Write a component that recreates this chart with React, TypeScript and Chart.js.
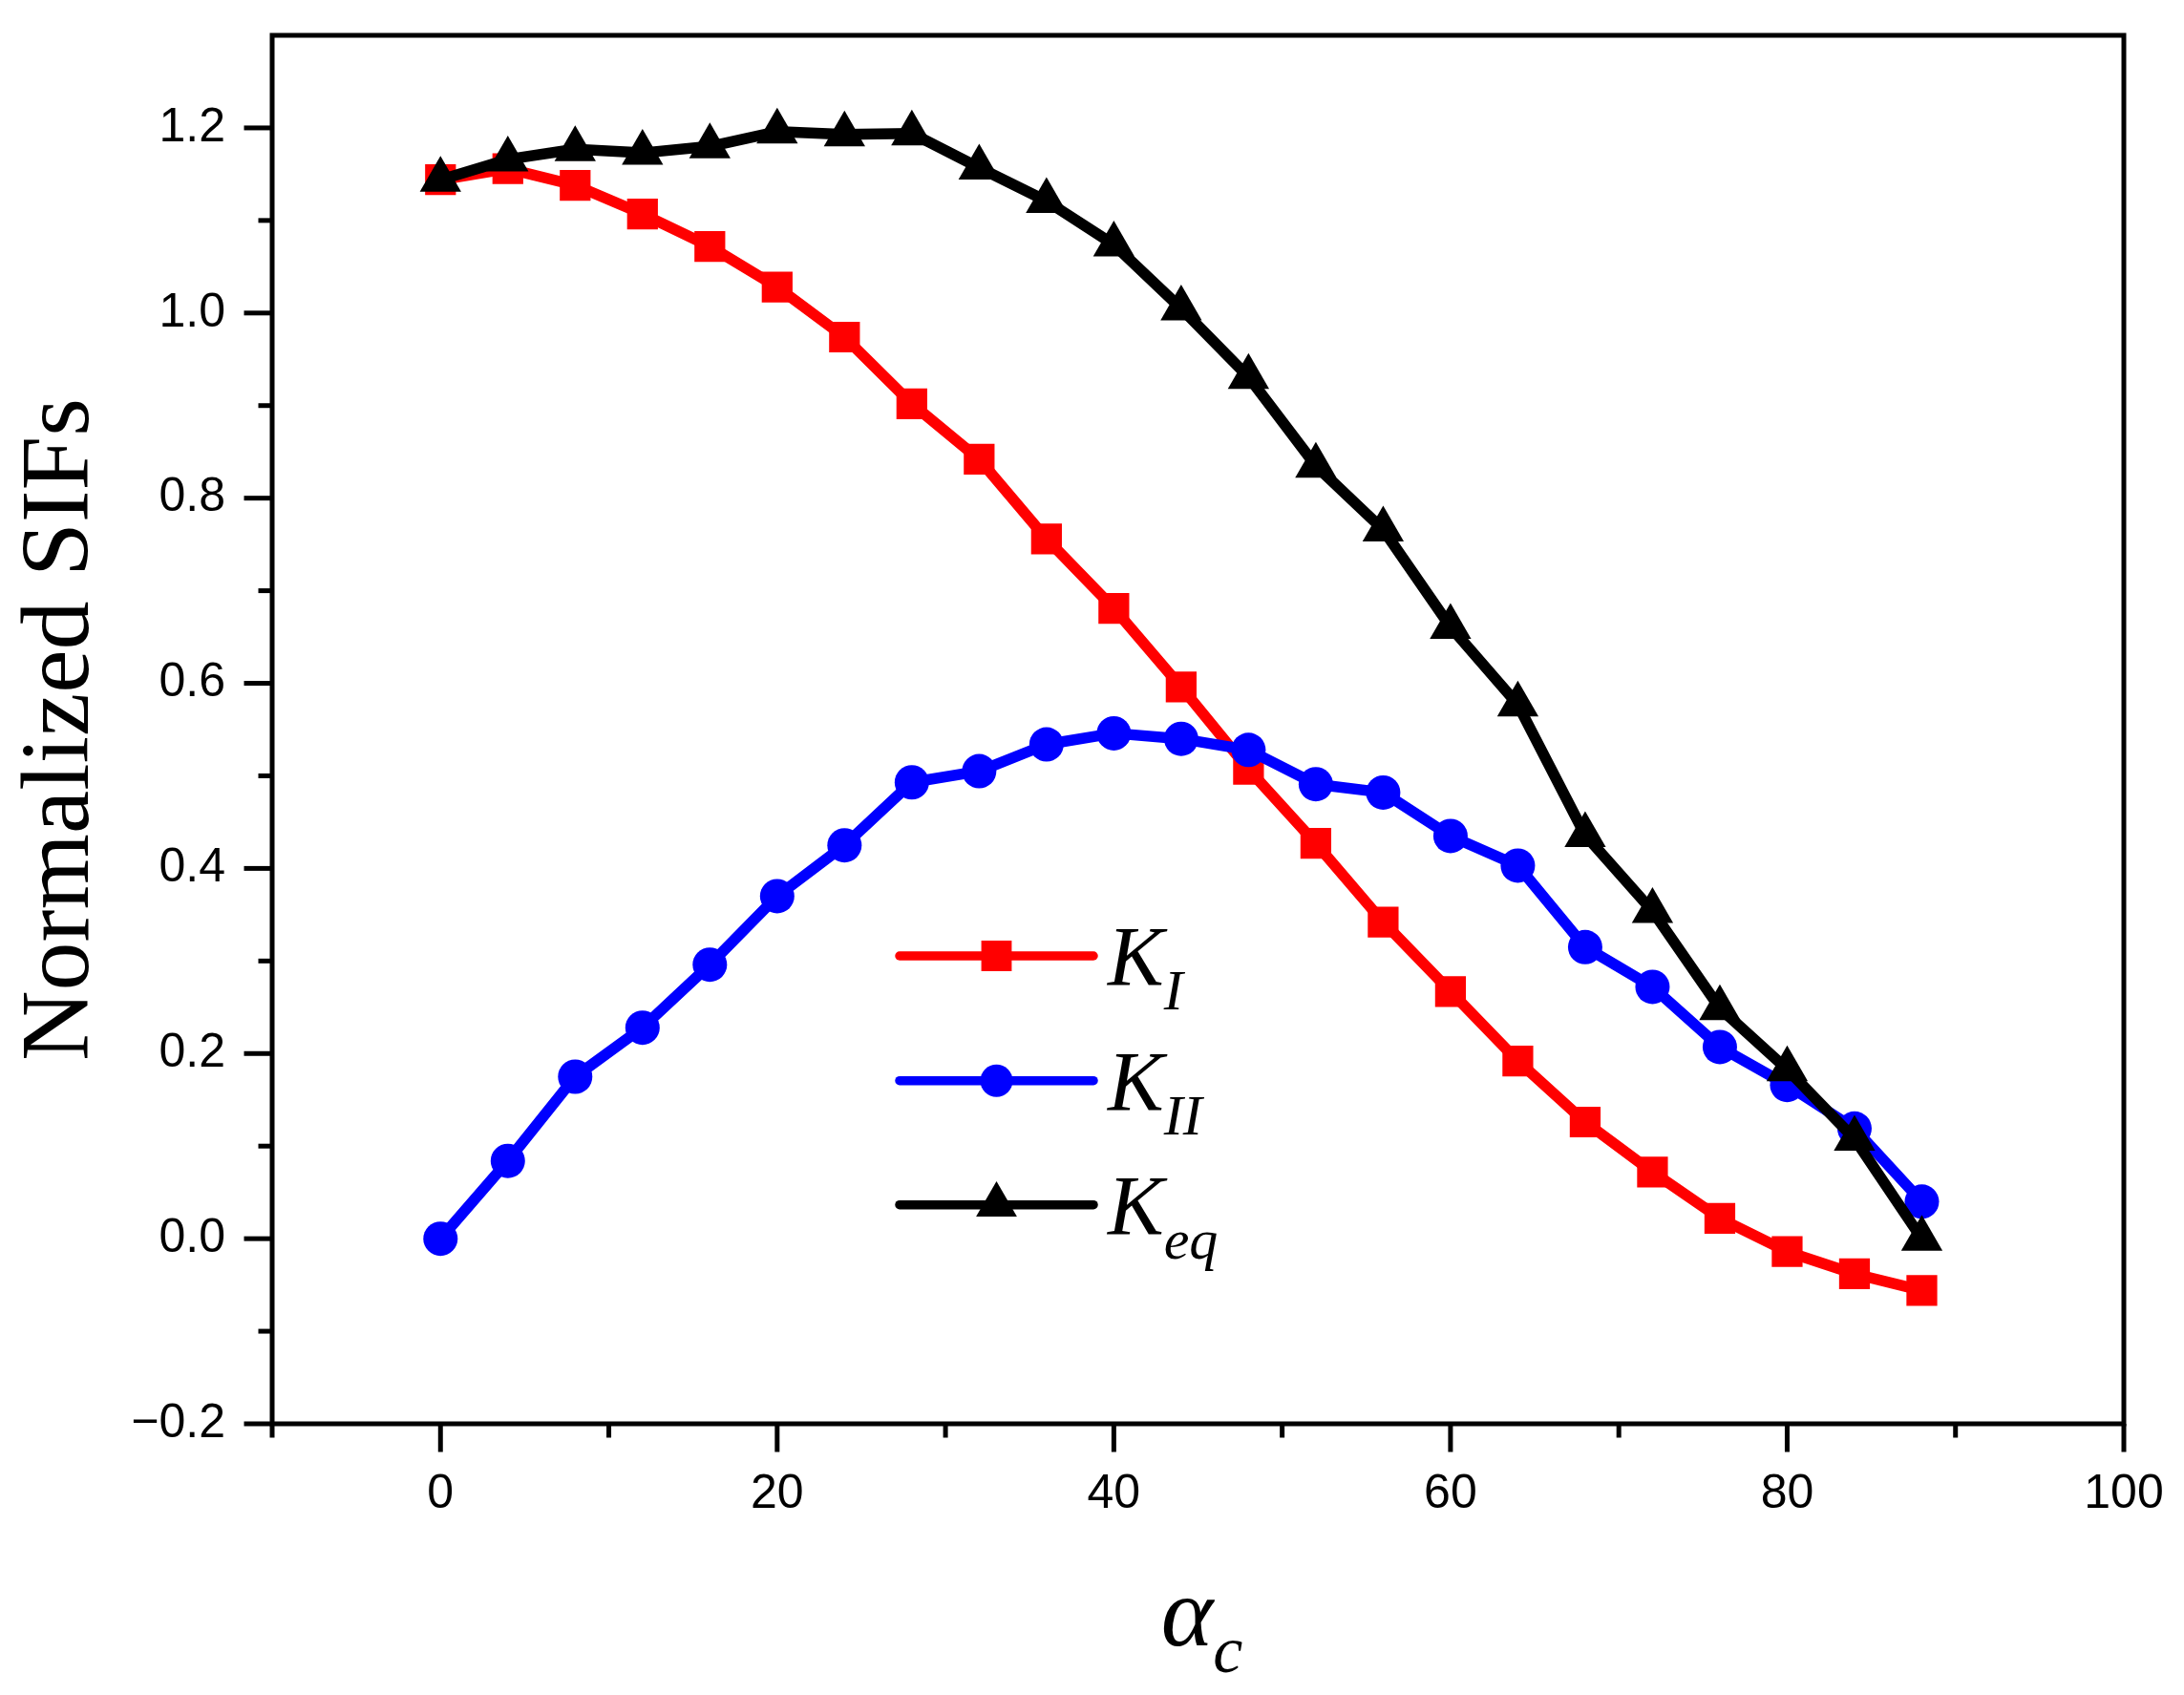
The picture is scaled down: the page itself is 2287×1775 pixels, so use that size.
import React, { useEffect, useRef } from 'react';
import { Chart, registerables } from 'chart.js';

Chart.register(...registerables);

// Crack angle alpha_c (degrees)
const ALPHA_C = [0, 4, 8, 12, 16, 20, 24, 28, 32, 36, 40, 44, 48, 52, 56, 60, 64, 68, 72, 76, 80, 84, 88];

// Normalized stress intensity factors
const K_I = [1.144, 1.156, 1.138, 1.107, 1.072, 1.028, 0.974, 0.902, 0.842, 0.756, 0.681, 0.596, 0.507, 0.427, 0.342, 0.267, 0.192, 0.126, 0.072, 0.022, -0.014, -0.038, -0.056];
const K_II = [0.0, 0.084, 0.175, 0.228, 0.296, 0.37, 0.425, 0.493, 0.505, 0.534, 0.546, 0.54, 0.528, 0.491, 0.482, 0.435, 0.403, 0.315, 0.272, 0.207, 0.166, 0.119, 0.04];
const K_EQ = [1.144, 1.166, 1.177, 1.173, 1.18, 1.196, 1.193, 1.194, 1.157, 1.121, 1.074, 1.005, 0.931, 0.835, 0.766, 0.661, 0.577, 0.436, 0.354, 0.249, 0.183, 0.108, 0.0];

// Axis ticks
const X_TICKS = [0, 20, 40, 60, 80, 100];
const X_MINOR = [-10, 10, 30, 50, 70, 90];
const Y_TICKS = [-0.2, 0, 0.2, 0.4, 0.6, 0.8, 1.0, 1.2];
const Y_MINOR = [-0.1, 0.1, 0.3, 0.5, 0.7, 0.9, 1.1];

// Legend entries: main symbol with subscript
const LEGEND_MAIN = 'K';
const LEGEND_SUB = ['I', 'II', 'eq'];

const W = 2287;
const H = 1775;

const COLORS = ['#ff0000', '#0000ff', '#000000'];
const MARKERS = ['rect', 'circle', 'triangle'];
const RADII = [22.8, 18, 25];

const SANS = '"Liberation Sans", Arial, sans-serif';
const SERIF = '"Liberation Serif", "Times New Roman", serif';

function drawMarker(ctx: CanvasRenderingContext2D, style: string, x: number, y: number, r: number) {
  ctx.beginPath();
  if (style === 'rect') {
    const s = r * Math.SQRT1_2;
    ctx.rect(x - s, y - s, 2 * s, 2 * s);
  } else if (style === 'circle') {
    ctx.arc(x, y, r, 0, Math.PI * 2);
  } else {
    for (let i = 0; i < 3; i++) {
      const a = (i * 2 * Math.PI) / 3;
      const px = x + Math.sin(a) * r;
      const py = y - Math.cos(a) * r;
      if (i === 0) ctx.moveTo(px, py);
      else ctx.lineTo(px, py);
    }
  }
  ctx.closePath();
  ctx.fill();
}

const decorPlugin = {
  id: 'decor',
  afterDraw(chart: any) {
    const ctx: CanvasRenderingContext2D = chart.ctx;
    const { left, right, top, bottom } = chart.chartArea;
    const xs = chart.scales.x;
    const ys = chart.scales.y;
    const lw = 5;
    const major = 27;
    const minor = 12;
    ctx.save();
    ctx.strokeStyle = '#000';
    ctx.lineWidth = lw;
    ctx.lineCap = 'butt';

    // frame
    ctx.strokeRect(left, top, right - left, bottom - top);

    // x ticks
    const drawX = (v: number, len: number) => {
      const px = xs.getPixelForValue(v);
      ctx.beginPath();
      ctx.moveTo(px, bottom);
      ctx.lineTo(px, bottom + lw / 2 + len);
      ctx.stroke();
    };
    X_TICKS.forEach((v) => drawX(v, major));
    X_MINOR.forEach((v) => drawX(v, minor));

    // y ticks
    const drawY = (v: number, len: number) => {
      const py = ys.getPixelForValue(v);
      ctx.beginPath();
      ctx.moveTo(left, py);
      ctx.lineTo(left - lw / 2 - len, py);
      ctx.stroke();
    };
    Y_TICKS.forEach((v) => drawY(v, major));
    Y_MINOR.forEach((v) => drawY(v, minor));

    ctx.fillStyle = '#000';

    // y axis title
    ctx.save();
    ctx.translate(92, (top + bottom) / 2);
    ctx.rotate(-Math.PI / 2);
    ctx.font = `102px ${SERIF}`;
    ctx.textAlign = 'center';
    ctx.textBaseline = 'alphabetic';
    ctx.fillText('Normalized SIFs', 0, 0);
    ctx.restore();

    // x axis title: alpha with subscript c
    ctx.textAlign = 'left';
    ctx.textBaseline = 'alphabetic';
    const mainFont = `italic 104px ${SERIF}`;
    const subFont = `italic 70px ${SERIF}`;
    ctx.font = mainFont;
    const wa = ctx.measureText('\u03b1').width;
    ctx.font = subFont;
    const wc = ctx.measureText('c').width;
    const cx = (left + right) / 2 + 4;
    const x0 = cx - (wa + wc) / 2;
    ctx.font = mainFont;
    ctx.fillText('\u03b1', x0, 1723);
    ctx.font = subFont;
    ctx.fillText('c', x0 + wa, 1751);

    // legend
    const legX0 = 942;
    const legX1 = 1145;
    const legY = [1001, 1131.7, 1261.7];
    ctx.lineCap = 'round';
    ctx.lineWidth = 9.5;
    LEGEND_SUB.forEach((sub, i) => {
      const y = legY[i];
      ctx.strokeStyle = COLORS[i];
      ctx.fillStyle = COLORS[i];
      ctx.beginPath();
      ctx.moveTo(legX0, y);
      ctx.lineTo(legX1, y);
      ctx.stroke();
      drawMarker(ctx, MARKERS[i], (legX0 + legX1) / 2, y, i === 1 ? 17 : i === 0 ? 22.5 : 24.7);
      ctx.fillStyle = '#000';
      ctx.font = `italic 88px ${SERIF}`;
      ctx.fillText(LEGEND_MAIN, 1160, y + 30);
      const wk = ctx.measureText(LEGEND_MAIN).width;
      ctx.font = `italic 60px ${SERIF}`;
      ctx.fillText(sub, 1160 + wk, y + 56);
    });
    ctx.restore();
  },
};

export default function App() {
  const ref = useRef<HTMLCanvasElement>(null);

  useEffect(() => {
    const series = [K_I, K_II, K_EQ];
    const datasets = series.map((vals, i) => ({
      label: LEGEND_MAIN + LEGEND_SUB[i],
      data: ALPHA_C.map((x, j) => ({ x, y: vals[j] })),
      borderColor: COLORS[i],
      backgroundColor: COLORS[i],
      borderWidth: 11.5,
      borderJoinStyle: 'round' as const,
      borderCapStyle: 'round' as const,
      pointStyle: MARKERS[i],
      pointRadius: RADII[i],
      pointBorderWidth: 0,
      pointBackgroundColor: COLORS[i],
      pointHoverRadius: RADII[i],
      tension: 0,
      order: 3 - i,
    }));

    const chart = new Chart(ref.current as HTMLCanvasElement, {
      type: 'line',
      data: { datasets },
      options: {
        animation: false,
        responsive: false,
        devicePixelRatio: 1,
        events: [],
        layout: { padding: { left: 0, top: 37, right: 63, bottom: 0 } },
        plugins: {
          legend: { display: false },
          tooltip: { enabled: false },
        },
        scales: {
          x: {
            type: 'linear',
            min: -10,
            max: 100,
            afterFit: (s: any) => {
              s.height = H - 1491;
              s.paddingLeft = 0;
              s.paddingRight = 0;
            },
            afterBuildTicks: (s: any) => {
              s.ticks = X_TICKS.map((value) => ({ value }));
            },
            grid: { display: true, drawOnChartArea: false, drawTicks: true, tickLength: 29.5, color: 'rgba(0,0,0,0)' },
            border: { display: false },
            ticks: {
              autoSkip: false,
              maxRotation: 0,
              padding: 14.5,
              color: '#000',
              font: { family: SANS, size: 50 },
              callback: (v: any) => String(v),
            },
          },
          y: {
            type: 'linear',
            min: -0.2,
            max: 1.3,
            afterFit: (s: any) => {
              s.width = 285;
              s.paddingTop = 0;
              s.paddingBottom = 0;
            },
            afterBuildTicks: (s: any) => {
              s.ticks = Y_TICKS.map((value) => ({ value }));
            },
            grid: { display: true, drawOnChartArea: false, drawTicks: true, tickLength: 29.5, color: 'rgba(0,0,0,0)' },
            border: { display: false },
            ticks: {
              autoSkip: false,
              padding: 19.5,
              color: '#000',
              font: { family: SANS, size: 50 },
              callback: (v: any) => {
                const n = Number(v);
                const s = Math.abs(n).toFixed(1);
                return n < -1e-9 ? '\u2212' + s : s;
              },
            },
          },
        },
      },
      plugins: [decorPlugin],
    } as any);

    return () => chart.destroy();
  }, []);

  return (
    <div style={{ position: 'absolute', left: 0, top: 0, width: W, height: H, background: '#fff' }}>
      <canvas ref={ref} width={W} height={H} style={{ display: 'block', width: W, height: H }} />
    </div>
  );
}
